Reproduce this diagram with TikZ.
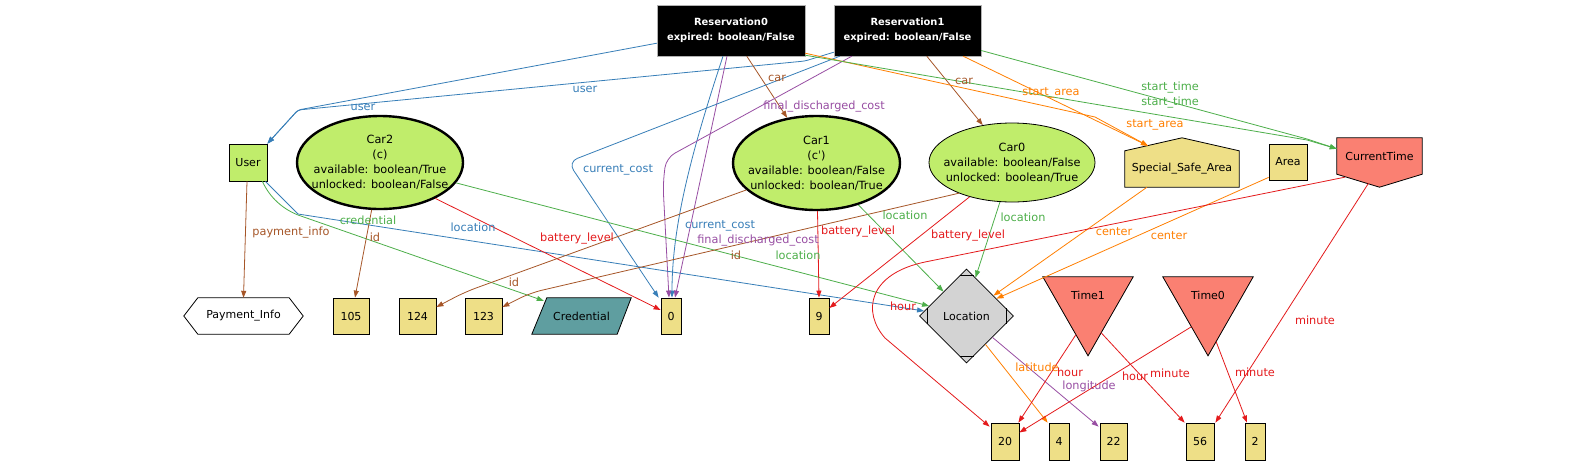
\documentclass[tikz,border=0pt]{standalone}
\usepackage{fontspec}
\setmainfont{DejaVu Sans}
\usetikzlibrary{arrows.meta,calc,shapes.geometric}
\pgfdeclarelayer{bg}
\pgfsetlayers{bg,main}
\definecolor{ngreen}{RGB}{192,237,107}
\definecolor{nkhaki}{RGB}{238,223,135}
\definecolor{nsalmon}{RGB}{250,128,114}
\definecolor{nteal}{RGB}{95,158,160}
\definecolor{ngray}{RGB}{211,211,211}
\definecolor{eblue}{HTML}{377EB8}
\definecolor{ered}{HTML}{E41A1C}
\definecolor{egreen}{HTML}{4DAF4A}
\definecolor{epurple}{HTML}{984EA3}
\definecolor{eorange}{HTML}{FF7F00}
\definecolor{ebrown}{HTML}{A65628}
\begin{document}
\begin{tikzpicture}[x=1pt,y=-1pt,
  txt/.style={font=\fontsize{11}{15}\selectfont, inner sep=0pt, align=center},
  box/.style={txt, draw=black, line width=0.8pt, minimum height=36pt},
  kbox/.style={box, fill=nkhaki},
  carnode/.style={ellipse, draw=black, fill=ngreen, inner xsep=-12pt, inner ysep=0pt, align=center, font=\fontsize{11.3}{15}\selectfont},
  resnode/.style={rectangle, fill=black, draw=gray!60, text=white, inner sep=0pt, align=center, font=\fontsize{9.9}{15}\selectfont\bfseries, minimum width=148pt, minimum height=51pt},
  shapeline/.style={draw=black, line width=0.8pt},
  edge/.style={line width=0.8pt, -{Triangle[length=7pt,width=5pt]}},
  eb/.style={edge, draw=eblue},
  er/.style={edge, draw=ered},
  eg/.style={edge, draw=egreen},
  ep/.style={edge, draw=epurple},
  eo/.style={edge, draw=eorange},
  ebr/.style={edge, draw=ebrown},
  lab/.style={font=\fontsize{11.3}{13}\selectfont, inner sep=0pt, text height=8pt, text depth=2.5pt},
]
\begin{pgfonlayer}{bg}
\fill[white] (0,0) rectangle (1575,464);
\end{pgfonlayer}
\useasboundingbox (0,0) rectangle (1575,464);

% ---------- nodes ----------
\node[resnode] (res0) at (731,30.5) {Reservation0\\expired: boolean/False};
\node[resnode, minimum width=147pt] (res1) at (907.5,30.5) {Reservation1\\expired: boolean/False};
\node[box, fill=ngreen, minimum width=38pt, minimum height=37pt] (user) at (248,162.5) {User};
\node[carnode, line width=2.4pt, minimum width=166pt, minimum height=93pt] (car2) at (380,162.5) {Car2\\(c)\\available: boolean/True\\unlocked: boolean/False};
\node[carnode, line width=2.4pt, minimum width=167pt, minimum height=94pt] (car1) at (816.5,163) {Car1\\(c\symbol{"02C8})\\available: boolean/False\\unlocked: boolean/True};
\node[carnode, line width=0.8pt, minimum width=166pt, minimum height=79pt] (car0) at (1012,162.5) {Car0\\available: boolean/False\\unlocked: boolean/True};
\node[txt, minimum width=114pt, minimum height=36pt] (ssa) at (1182,169) {Special\_Safe\_Area};
\node[kbox, minimum width=38pt] (area) at (1288,162) {Area};
\node[txt, minimum width=85pt, minimum height=36pt] (ct) at (1379.5,156) {CurrentTime};
\node[txt, minimum width=119pt, minimum height=36pt] (pay) at (243.5,316) {Payment\_Info};
\node[kbox, minimum width=36pt] (n105) at (351,316) {105};
\node[kbox, minimum width=37pt] (n124) at (417.5,316) {124};
\node[kbox, minimum width=37pt] (n123) at (483.5,316) {123};
\node[txt, minimum width=99pt, minimum height=36pt] (cred) at (581.5,316) {Credential};
\node[kbox, minimum width=20pt] (n0) at (671,316) {0};
\node[kbox, minimum width=20pt] (n9) at (819,316) {9};
\node[txt, diamond, draw=black, fill=ngray, line width=0.8pt, minimum width=94pt, minimum height=94pt] (loc) at (966.5,316) {Location};
\node[txt, minimum width=90pt, minimum height=36pt] (time1) at (1088,295) {Time1};
\node[txt, minimum width=90pt, minimum height=36pt] (time0) at (1208,295) {Time0};
\node[kbox, minimum width=28pt, minimum height=37pt] (n20) at (1005,441.5) {20};
\node[kbox, minimum width=20pt, minimum height=37pt] (n4) at (1059,441.5) {4};
\node[kbox, minimum width=27pt, minimum height=37pt] (n22) at (1113.5,441.5) {22};
\node[kbox, minimum width=28pt, minimum height=37pt] (n56) at (1200,441.5) {56};
\node[kbox, minimum width=20pt, minimum height=37pt] (n2) at (1255,441.5) {2};

% ---------- custom node outlines ----------
\begin{pgfonlayer}{bg}
\filldraw[shapeline, fill=nkhaki] (ssa.south west) -- (ssa.south east) -- (ssa.north east) -- ($(ssa.north)+(0,-13)$) -- (ssa.north west) -- cycle;
\filldraw[shapeline, fill=nsalmon] (ct.north west) -- (ct.north east) -- (ct.south east) -- ($(ct.south)+(0,13)$) -- (ct.south west) -- cycle;
\filldraw[shapeline, fill=white] (pay.west) -- ($(pay.north west)+(14,0)$) -- ($(pay.north east)+(-14,0)$) -- (pay.east) -- ($(pay.south east)+(-14,0)$) -- ($(pay.south west)+(14,0)$) -- cycle;
\filldraw[shapeline, fill=nteal] ($(cred.north west)+(15,0)$) -- (cred.north east) -- ($(cred.south east)+(-14,0)$) -- (cred.south west) -- cycle;
\filldraw[shapeline, fill=nsalmon] (time1.north west) -- (time1.north east) -- ($(time1.north)+(0,79)$) -- cycle;
\filldraw[shapeline, fill=nsalmon] (time0.north west) -- (time0.north east) -- ($(time0.north)+(0,79)$) -- cycle;
\end{pgfonlayer}
\draw[line width=0.8pt] ($(loc.north)+(-7,7)$) -- ($(loc.north)+(7,7)$);
\draw[line width=0.8pt] ($(loc.south)+(-7,-7)$) -- ($(loc.south)+(7,-7)$);
\draw[line width=0.8pt] ($(loc.west)+(8,-8)$) -- ($(loc.west)+(8,8)$);
\draw[line width=0.8pt] ($(loc.east)+(-8,-8)$) -- ($(loc.east)+(-8,8)$);

% ---------- connectors ----------
\draw[eb, rounded corners=3pt] ($(res0.south west)+(0,-13)$) -- (298,110) -- (user.north east);
\draw[eb, rounded corners=3pt] ($(res1.south west)+(0,-4)$) -- (805,61) -- (298,110) -- (user.north east);
\draw[ebr] ($(res0.south west)+(90,0)$) -- (car1.123);
\draw[ebr] ($(res1.south west)+(93,0)$) -- (car0.128);
\draw[eb] ($(res0.south)+(-8,0)$) .. controls (692,150) and (672,225) .. ($(n0.north)+(1,0)$);
\draw[ep] ($(res0.south)+(-4,0)$) -- ($(n0.north)+(4,0)$);
\draw[ep, rounded corners=10pt] ($(res1.south west)+(18,0)$) -- (666,158) -- (663,185) -- ($(n0.north)+(-2,0)$);
\draw[eb, rounded corners=10pt] ($(res1.south west)+(6,0)$) -- (568,162) -- ($(n0.north west)+(-2,0)$);
\draw[eo] ($(res0.south east)+(0,-3)$) -- (1095,117) -- ($(ssa.north)+(-34,-5)$);
\draw[eo] ($(res1.south east)+(-18,0)$) -- ($(ssa.north)+(-34,-5)$);
\draw[eg] ($(res0.south east)+(0,-1)$) -- (1307,140) -- ($(ct.north west)+(0,11)$);
\draw[eg] ($(res1.east)+(0,20)$) -- (1307,139) -- ($(ct.north west)+(0,11)$);
\draw[ebr] ($(user.south)+(-1,0)$) -- (pay.north);
\draw[eg] ($(user.south east)+(-5,0)$) .. controls (270,198) and (283,209) .. (298,215) -- ($(cred.north west)+(12,3)$);
\draw[eb] ($(user.south east)+(-2,0)$) -- (298,214) -- ($(loc.west)+(5,-5)$);
\draw[ebr] (car2.-100) -- ($(n105.north)+(4,0)$);
\draw[er] (car2.-33) -- ($(n0.west)+(0,-6)$);
\draw[eg] (car2.-15) -- ($(loc.west)+(10,-10)$);
\draw[ebr, rounded corners=12pt] (car1.201) -- (465,292) -- ($(n124.east)+(0,-9)$);
\draw[ebr, rounded corners=12pt] (car0.210) -- (530,293) -- ($(n123.east)+(0,-9)$);
\draw[er] ($(car1.south)+(1,0)$) -- (n9.north);
\draw[eg] (car1.-45) -- ($(loc.north)+(-23,23)$);
\draw[er] (car0.219) -- ($(n9.east)+(0,-8)$);
\draw[eg] (car0.-107) -- ($(loc.north)+(9,9)$);
\draw[eo] ($(ssa.south)+(-35,0)$) -- ($(loc.north)+(27,27)$);
\draw[eo] ($(area.south west)+(0,-3)$) -- ($(loc.north)+(30,30)$);
\draw[er] ($(ct.south west)+(8,3)$) -- (925,262) .. controls (868,274) and (862,312) .. (885,338) -- ($(n20.north west)+(-1,4)$);
\draw[er] ($(ct.south)+(-11,9)$) -- ($(n56.north east)+(1,0)$);
\draw[eo] ($(loc.south)+(19,-19)$) -- ($(n4.north west)+(-1,0)$);
\draw[ep] ($(loc.south)+(26,-26)$) -- ($(n22.north west)+(-1,4)$);
\draw[er] ($(time1.north west)+(33,58)$) -- ($(n20.north east)+(-1,0)$);
\draw[er] ($(time1.north east)+(-32,56)$) -- ($(n56.north west)+(-1,0)$);
\draw[er] ($(time0.north west)+(28.5,50)$) -- ($(n20.east)+(0,-9)$);
\draw[er] ($(time0.north east)+(-37,65)$) -- ($(n2.north)+(-8,0)$);

% ---------- connector labels ----------
\node[lab, text=eblue] (t1) at (363,108) {user};
\node[lab, text=eblue] (t2) at (585,90) {user};
\node[lab, text=ebrown] (t3) at (777,79) {car};
\node[lab, text=ebrown] (t4) at (964,82) {car};
\node[lab, text=eblue] (t5) at (618,170) {current\_cost};
\node[lab, text=eblue] (t6) at (720,226) {current\_cost};
\node[lab, text=epurple] (t7) at (824,107) {final\_discharged\_cost};
\node[lab, text=epurple] (t8) at (758,241) {final\_discharged\_cost};
\node[lab, text=eorange] (t9) at (1051,93) {start\_area};
\node[lab, text=eorange] (t10) at (1155,125) {start\_area};
\node[lab, text=egreen] (t11) at (1170,88) {start\_time};
\node[lab, text=egreen] (t12) at (1170,103) {start\_time};
\node[lab, text=ebrown] (t13) at (291,233) {payment\_info};
\node[lab, text=egreen] (t14) at (368,222) {credential};
\node[lab, text=ebrown] (t15) at (375,239) {id};
\node[lab, text=eblue] (t16) at (473,229) {location};
\node[lab, text=ered] (t17) at (577,239) {battery\_level};
\node[lab, text=ebrown] (t18) at (514,284) {id};
\node[lab, text=ebrown] (t19) at (736,257) {id};
\node[lab, text=egreen] (t20) at (798,257) {location};
\node[lab, text=ered] (t21) at (858,232) {battery\_level};
\node[lab, text=egreen] (t22) at (905,217) {location};
\node[lab, text=ered] (t23) at (968,236) {battery\_level};
\node[lab, text=egreen] (t24) at (1023,219) {location};
\node[lab, text=eorange] (t25) at (1114,233) {center};
\node[lab, text=eorange] (t26) at (1169,237) {center};
\node[lab, text=ered] (t27) at (903,308) {hour};
\node[lab, text=eorange] (t28) at (1037,369) {latitude};
\node[lab, text=ered] (t29) at (1070,374) {hour};
\node[lab, text=epurple] (t30) at (1089,387) {longitude};
\node[lab, text=ered] (t31) at (1135,378) {hour};
\node[lab, text=ered] (t32) at (1170,375) {minute};
\node[lab, text=ered] (t33) at (1255,374) {minute};
\node[lab, text=ered] (t34) at (1315,322) {minute};
\end{tikzpicture}
\end{document}
